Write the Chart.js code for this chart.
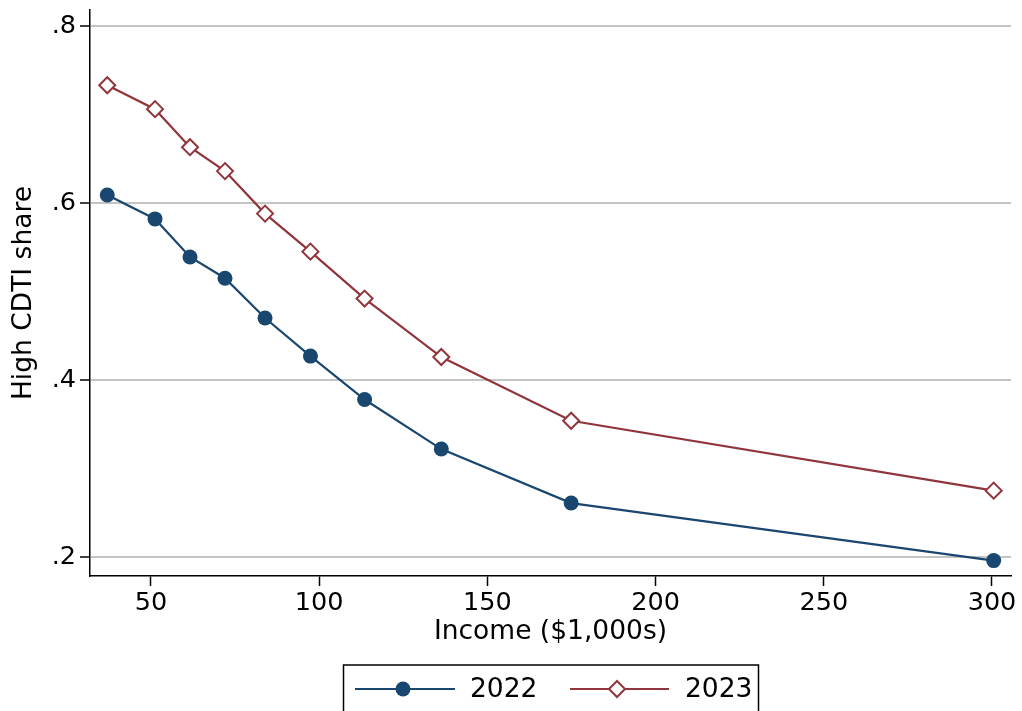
<!DOCTYPE html>
<html>
<head>
<meta charset="utf-8">
<script src="https://cdn.jsdelivr.net/npm/chart.js@4/dist/chart.umd.min.js"></script>
<style>
  html, body { margin: 0; padding: 0; background: #ffffff; }
  #wrap { width: 1022px; height: 711px; }
</style>
</head>
<body>
<div id="wrap"><canvas id="c" width="1022" height="711"></canvas></div>
<script>
// Data
const incomes = [37.0, 51.2, 61.6, 72.0, 83.9, 97.4, 113.5, 136.3, 174.9, 300.5];
const share2022 = [0.609, 0.582, 0.539, 0.515, 0.470, 0.427, 0.378, 0.322, 0.261, 0.196];
const share2023 = [0.733, 0.706, 0.663, 0.636, 0.588, 0.545, 0.492, 0.426, 0.354, 0.275];
const seriesLabels = ["2022", "2023"];
const xTicks = [50, 100, 150, 200, 250, 300];
const yTicks = [0.2, 0.4, 0.6, 0.8];
const xTitle = "Income ($1,000s)";
const yTitle = "High CDTI share";

const NAVY = "#1a476f";
const MAROON = "#90353b";
const FONT = "DejaVu Sans";

const toPoints = (ys) => incomes.map((x, i) => ({ x: x, y: ys[i] }));

const legendPlugin = {
  id: "boxLegend",
  afterDraw(chart) {
    const ctx = chart.ctx;
    ctx.save();
    ctx.strokeStyle = "#000";
    ctx.lineWidth = 1.5;
    ctx.strokeRect(343.5, 665, 415, 60);
    const cy = 689;
    const items = [
      { lx0: 355, lx1: 455, mx: 403, tx: 470, ds: chart.data.datasets[0] },
      { lx0: 570, lx1: 669, mx: 617, tx: 685, ds: chart.data.datasets[1] }
    ];
    items.forEach(it => {
      ctx.strokeStyle = it.ds.borderColor;
      ctx.lineWidth = 2.2;
      ctx.beginPath();
      ctx.moveTo(it.lx0, cy);
      ctx.lineTo(it.lx1, cy);
      ctx.stroke();
      if (it.ds.pointStyle === "circle") {
        ctx.fillStyle = it.ds.pointBackgroundColor;
        ctx.beginPath();
        ctx.arc(it.mx, cy, 7.5, 0, Math.PI * 2);
        ctx.fill();
      } else {
        const r = 8;
        ctx.fillStyle = "#fff";
        ctx.strokeStyle = it.ds.pointBorderColor;
        ctx.lineWidth = 2;
        ctx.beginPath();
        ctx.moveTo(it.mx - r, cy);
        ctx.lineTo(it.mx, cy - r);
        ctx.lineTo(it.mx + r, cy);
        ctx.lineTo(it.mx, cy + r);
        ctx.closePath();
        ctx.fill();
        ctx.stroke();
      }
      ctx.fillStyle = "#000";
      ctx.font = "26.5px '" + FONT + "'";
      ctx.textBaseline = "middle";
      ctx.textAlign = "left";
      ctx.fillText(it.ds.label, it.tx, cy + 1);
    });
    ctx.restore();
  }
};

new Chart(document.getElementById("c"), {
  type: "line",
  data: {
    datasets: [
      {
        label: seriesLabels[0],
        data: toPoints(share2022),
        borderColor: NAVY,
        backgroundColor: NAVY,
        borderWidth: 2.2,
        pointStyle: "circle",
        pointRadius: 7.5,
        pointBorderWidth: 0,
        pointBackgroundColor: NAVY,
        pointBorderColor: NAVY,
        tension: 0,
        clip: false
      },
      {
        label: seriesLabels[1],
        data: toPoints(share2023),
        borderColor: MAROON,
        backgroundColor: "#ffffff",
        borderWidth: 2.2,
        pointStyle: "rectRot",
        pointRadius: 8,
        pointBorderWidth: 2,
        pointBackgroundColor: "#ffffff",
        pointBorderColor: MAROON,
        tension: 0,
        clip: false
      }
    ]
  },
  options: {
    responsive: false,
    animation: false,
    devicePixelRatio: 1,
    layout: { padding: { top: 9, right: 11, bottom: 0, left: 0 } },
    plugins: {
      legend: { display: false },
      tooltip: { enabled: false }
    },
    scales: {
      x: {
        type: "linear",
        min: 31.87,
        max: 305.65,
        afterBuildTicks: (s) => { s.ticks = xTicks.map(v => ({ value: v })); },
        afterFit: (s) => { s.height = 135; s.paddingLeft = 0; s.paddingRight = 0; },
        border: { display: true, color: "#000", width: 1.5 },
        grid: {
          display: true,
          drawOnChartArea: false,
          drawTicks: true,
          tickLength: 10,
          tickColor: "#000",
          tickWidth: 1.5
        },
        ticks: {
          color: "#000",
          font: { family: FONT, size: 25.5 },
          padding: 2,
          maxRotation: 0,
          autoSkip: false,
          callback: (v) => String(v)
        },
        title: {
          display: true,
          text: xTitle,
          color: "#000",
          font: { family: FONT, size: 26.5 },
          padding: { top: 0, bottom: 63 }
        }
      },
      y: {
        type: "linear",
        min: 0.1786,
        max: 0.818,
        afterBuildTicks: (s) => { s.ticks = yTicks.map(v => ({ value: v })); },
        afterFit: (s) => { s.width = 90; s.paddingTop = 0; s.paddingBottom = 0; },
        border: { display: true, color: "#000", width: 1.5 },
        grid: {
          display: true,
          drawOnChartArea: true,
          color: "#c4c4c4",
          lineWidth: 2,
          drawTicks: true,
          tickLength: 10,
          tickColor: "#000",
          tickWidth: 1.5
        },
        ticks: {
          color: "#000",
          font: { family: FONT, size: 25.5 },
          padding: 4,
          autoSkip: false,
          callback: (v) => v.toFixed(1).replace(/^0/, "")
        },
        title: {
          display: true,
          text: yTitle,
          color: "#000",
          font: { family: FONT, size: 26.5 },
          padding: { top: 8, bottom: 0 }
        }
      }
    }
  },
  plugins: [legendPlugin]
});
</script>
</body>
</html>
